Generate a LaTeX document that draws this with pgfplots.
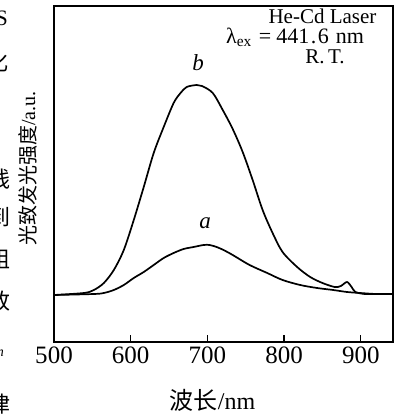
\documentclass[border=0pt]{standalone}
\usepackage{fontspec}
\setmainfont{Liberation Serif}
\newfontfamily\cjk{Noto Sans CJK SC}
\usepackage{pgfplots}
\pgfplotsset{compat=1.18}
\begin{document}
\begin{tikzpicture}[x=1pt,y=1pt]
\useasboundingbox (0,0) rectangle (397,414);
\begin{axis}[
  at={(54pt,72pt)}, anchor=south west,
  scale only axis, width=339pt, height=336pt,
  xmin=500, xmax=942, ymin=0, ymax=336,
  xtick={500,600,700,800,900},
  ytick=\empty,
  tick pos=bottom, tick align=inside,
  major tick length=7pt,
  axis line style={line width=1.6pt},
  every tick/.style={line width=1.2pt, black},
  /pgf/number format/assume math mode=true,
  xticklabel style={font=\fontsize{25}{27}\selectfont, yshift=-1pt},
  clip=false,
]
\addplot[black, line width=1.7pt, smooth, tension=0.5] coordinates {
(500,47) (539,49) (552,52) (565,59) (578,72) (591,92) (604,122) (617,155)
(630,189) (643,215) (656,239) (665,249) (673,255) (686,257) (693,256)
(707,249) (720,232) (733,213) (746,190) (759,162) (772,132) (785,109)
(798,90) (817,75) (834,65) (850,59) (866,55) (874,56) (882,60) (888,55)
(893,50) (905,48) (920,48) (942,48)
};
\addplot[black, line width=1.7pt, smooth, tension=0.5] coordinates {
(500,47) (552,48) (565,49) (578,52) (591,57) (604,64) (617,70) (630,77)
(643,84) (656,89) (669,93) (682,95) (695,97) (703,97) (712,95)
(721,92) (733,87) (755,77) (778,69) (798,62) (821,57) (843,54)
(864,52) (882,50) (899,49) (920,48) (942,48)
};
\node[font=\itshape\fontsize{23}{25}\selectfont] at (axis cs:688,279) {b};
\node[font=\itshape\fontsize{23}{25}\selectfont] at (axis cs:697,119) {a};
\end{axis}
\node[rotate=90, font=\fontsize{20}{22}\selectfont] at (27.5,245.5) {{\cjk 光致发光强度}/a.u.};
\node[font=\fontsize{24}{26}\selectfont] at (212.5,14) {{\cjk 波长}/nm};
\node[inner sep=0pt, font=\fontsize{21}{23}\selectfont] at (322.5,398) {He-Cd Laser};
\node[inner sep=0pt, anchor=west, font=\fontsize{22}{24}\selectfont] at (226,377) {λ\textsubscript{ex}\hspace{7pt}=\hspace{5pt}441\hspace{1.5pt}.\hspace{1.5pt}6\hspace{7pt}nm};
\node[inner sep=0pt, font=\fontsize{21}{23}\selectfont] at (325,357) {R.\,T.};
% clipped fragments of surrounding body text at the left edge
\node[anchor=east, font=\fontsize{22}{24}\selectfont, inner sep=0pt] at (8,395.5) {S};
\node[anchor=east, font=\cjk\fontsize{22}{24}\selectfont, inner sep=0pt] at (9,352) {化};
\node[anchor=east, font=\cjk\fontsize{22}{24}\selectfont, inner sep=0pt] at (11,235) {线};
\node[anchor=east, font=\cjk\fontsize{22}{24}\selectfont, inner sep=0pt] at (11,197) {到};
\node[anchor=east, font=\cjk\fontsize{22}{24}\selectfont, inner sep=0pt] at (11,155) {组};
\node[anchor=east, font=\cjk\fontsize{22}{24}\selectfont, inner sep=0pt] at (11,113) {致};
\node[anchor=east, font=\itshape\fontsize{14}{16}\selectfont, inner sep=0pt] at (4,61) {n};
\node[anchor=east, font=\cjk\fontsize{22}{24}\selectfont, inner sep=0pt] at (11,10) {律};
\end{tikzpicture}
\end{document}
